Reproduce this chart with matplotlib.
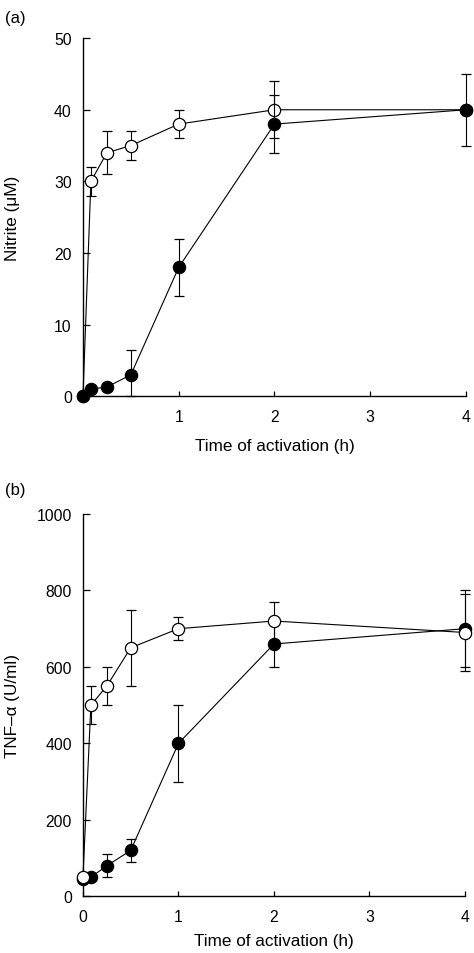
import matplotlib
matplotlib.use('Agg')
import matplotlib.pyplot as plt

plt.rc('font', family=['Liberation Sans', 'DejaVu Sans'], size=11.3)
plt.rc('axes', labelsize=12.3)

# time points (h)
time = [0, 0.083, 0.25, 0.5, 1, 2, 4]

# (a) nitrite (uM)
nit_open = [0, 30, 34, 35, 38, 40, 40]
nit_open_err = [0, 2, 3, 2, 2, 4, 0]
nit_fill = [0, 1, 1.3, 3, 18, 38, 40]
nit_fill_err = [0, 0, 0, 3.4, 4, 4, 5]

# (b) TNF-alpha (U/ml)
tnf_open = [50, 500, 550, 650, 700, 720, 690]
tnf_open_err = [0, 50, 50, 100, 30, 50, 100]
tnf_fill = [45, 50, 80, 120, 400, 660, 700]
tnf_fill_err = [0, 0, 30, 30, 100, 60, 100]

fig = plt.figure(figsize=(4.74, 9.54), dpi=100)
ax1 = fig.add_axes([0.175, 0.5835, 0.808, 0.3755])
ax2 = fig.add_axes([0.175, 0.0594, 0.806, 0.4008])

style = dict(color='black', lw=0.8, elinewidth=0.8, capsize=3.6, capthick=0.8,
             marker='o', markersize=8.8, markeredgewidth=0.9, markeredgecolor='black',
             clip_on=False)

# (a) filled drawn on top
ax1.errorbar(time, nit_open, yerr=nit_open_err, markerfacecolor='white', zorder=3, **style)
ax1.errorbar(time, nit_fill, yerr=[[0, 0, 0, 3, 4, 4, 5], nit_fill_err],
             markerfacecolor='black', zorder=4, **style)
# (b) open drawn on top
ax2.errorbar(time, tnf_fill, yerr=tnf_fill_err, markerfacecolor='black', zorder=3, **style)
ax2.errorbar(time, tnf_open, yerr=tnf_open_err, markerfacecolor='white', zorder=4, **style)

for ax in (ax1, ax2):
    ax.spines['top'].set_visible(False)
    ax.spines['right'].set_visible(False)
    ax.spines['left'].set_linewidth(1.0)
    ax.spines['bottom'].set_linewidth(1.0)
    ax.set_xlim(0, 4)
    ax.tick_params(axis='y', direction='in', length=5, width=0.9, pad=8)
    ax.tick_params(axis='x', direction='in', length=3.5, width=0.9, pad=9)

ax1.set_ylim(0, 50)
ax1.set_yticks([0, 10, 20, 30, 40, 50])
ax1.set_xticks([1, 2, 3, 4])
ax1.set_xlabel('Time of activation (h)')
ax1.set_ylabel('Nitrite (μM)')
ax1.xaxis.set_label_coords(0.5, -0.117)
ax1.yaxis.set_label_coords(-0.165, 0.5)

ax2.set_ylim(0, 1000)
ax2.set_yticks([0, 200, 400, 600, 800, 1000])
ax2.set_xticks([0, 1, 2, 3, 4])
ax2.set_xlabel('Time of activation (h)')
ax2.set_ylabel('TNF–α (U/ml)')
ax2.xaxis.set_label_coords(0.5, -0.097)
ax2.yaxis.set_label_coords(-0.165, 0.5)

fig.text(0.01, 0.988, '(a)', ha='left', va='top', fontsize=12)
fig.text(0.01, 0.494, '(b)', ha='left', va='top', fontsize=12)

fig.savefig('out.png', dpi=100)
